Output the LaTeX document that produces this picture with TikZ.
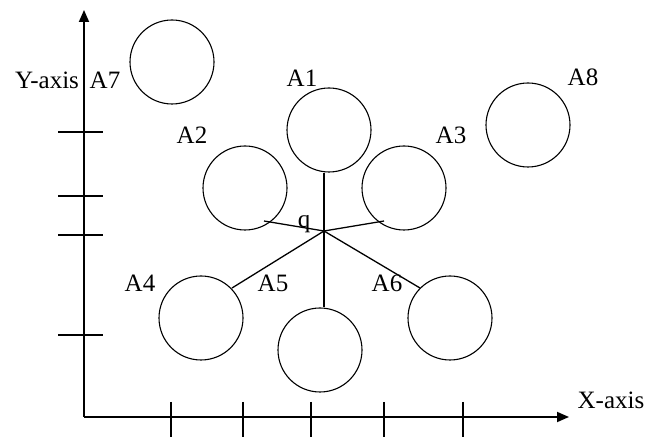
\documentclass[tikz,border=0pt]{standalone}
\usepackage{fontspec}
\setmainfont{Liberation Serif}
\usetikzlibrary{arrows.meta}

\begin{document}
\begin{tikzpicture}[x=0.5pt,y=-0.5pt,
	zone/.style={draw,circle,line width=0.55pt,minimum size=42pt,inner sep=0pt},
	lbl/.style={inner sep=0pt,font=\fontsize{12.5}{14}\selectfont},
	axis/.style={line width=0.9pt,-{Triangle[length=6pt,width=5pt]}},
	tick/.style={line width=0.65pt},
	link/.style={line width=0.65pt}]
	\useasboundingbox (0,0) rectangle (658,437);
	% axes
	\coordinate (o) at (84,417);
	\coordinate (xend) at (569,417);
	\coordinate (yend) at (84,10);
	\draw[axis] (o) -- (xend);
	\draw[axis] (o) -- (yend);
	\foreach \tx in {171,243,311,384,463}
		\draw[tick] (\tx,402) -- (\tx,437);
	\foreach \ty in {132,196,235,335}
		\draw[tick] (58,\ty) -- (103,\ty);
	\node[lbl] (xlab) at (611,400) {X-axis};
	\node[lbl] (ylab) at (47,80) {Y-axis};
	% circles
	\node[zone] (c1) at (329,130) {};
	\node[zone] (c2) at (245,188) {};
	\node[zone] (c3) at (404,188) {};
	\node[zone] (c4) at (201,318) {};
	\node[zone] (c5) at (320,350) {};
	\node[zone] (c6) at (450,318) {};
	\node[zone] (c7) at (172,62) {};
	\node[zone] (c8) at (528,125) {};
	\node[lbl] (a1) at (302,78) {A1};
	\node[lbl] (a2) at (192,135) {A2};
	\node[lbl] (a3) at (451,135) {A3};
	\node[lbl] (a4) at (140,283) {A4};
	\node[lbl] (a5) at (273,283) {A5};
	\node[lbl] (a6) at (387,283) {A6};
	\node[lbl] (a7) at (105,80) {A7};
	\node[lbl] (a8) at (583,77) {A8};
	% point q and its links
	\coordinate (q) at (324,231);
	\node[lbl] (qlab) at (304,224) {q};
	\coordinate (e2) at (264,221);
	\coordinate (e3) at (384,221);
	\coordinate (e4) at (232,288);
	\coordinate (e6) at (420,288);
	\draw[link] (q) -- (q |- c1.south);
	\draw[link] (q) -- (q |- c5.north);
	\draw[link] (q) -- (e2);
	\draw[link] (q) -- (e3);
	\draw[link] (q) -- (e4);
	\draw[link] (q) -- (e6);
\end{tikzpicture}
\end{document}
